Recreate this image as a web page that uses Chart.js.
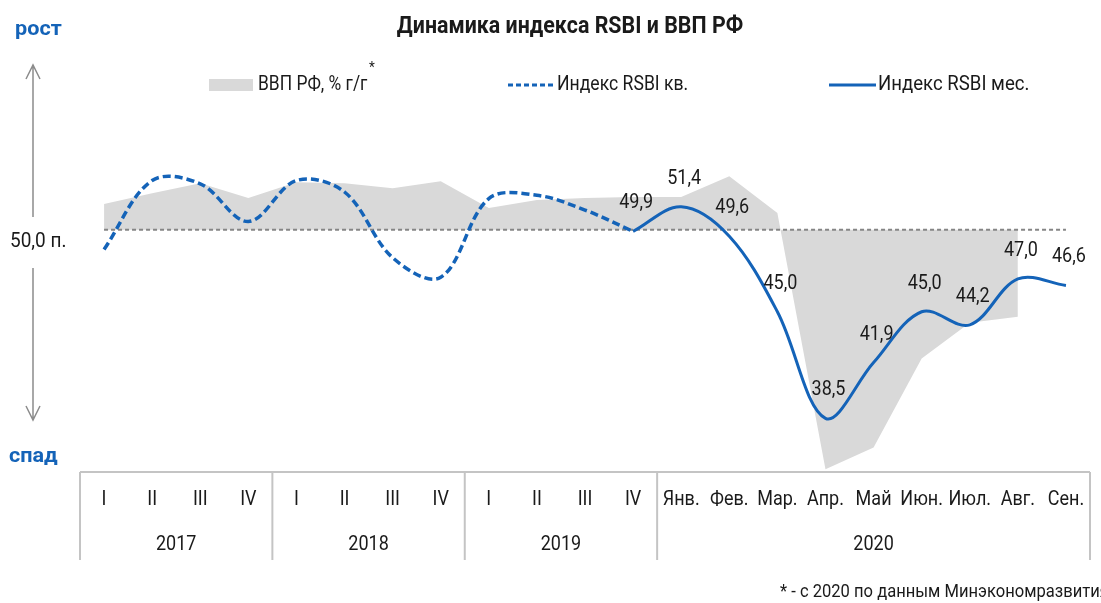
<!DOCTYPE html>
<html>
<head>
<meta charset="utf-8">
<script src="https://cdn.jsdelivr.net/npm/chart.js@4.4.0/dist/chart.umd.min.js"></script>
<style>
  html, body { margin: 0; padding: 0; background: #fff; }
  #wrap { width: 1101px; height: 603px; }
</style>
</head>
<body>
<div id="wrap"><canvas id="chart"></canvas></div>
<script>
// categories: quarters 2017-2019, then months 2020
const categories = ['I', 'II', 'III', 'IV', 'I', 'II', 'III', 'IV', 'I', 'II', 'III', 'IV',
  'Янв.', 'Фев.', 'Мар.', 'Апр.', 'Май', 'Июн.', 'Июл.', 'Авг.', 'Сен.'];
const years = ['2017', '2018', '2019', '2020'];
const yearSpans = [4, 4, 4, 9];

// RSBI index, quarterly (dashed) and monthly (solid)
const rsbiQuarterly = [48.8, 53.0, 52.8, 50.5, 53.0, 52.3, 48.3, 47.1, 51.9, 52.1, 51.2, 49.9,
  null, null, null, null, null, null, null, null, null];
const rsbiMonthly = [null, null, null, null, null, null, null, null, null, null, null,
  49.9, 51.4, 49.6, 45.0, 38.5, 41.9, 45.0, 44.2, 47.0, 46.6];
// GDP, % y/y
const gdp = [1.3, 1.85, 2.35, 1.6, 2.4, 2.35, 2.1, 2.45, 1.1, 1.5, 1.6, 1.65,
  1.65, 2.7, 0.85, -12.1, -11.0, -6.5, -4.7, -4.4, null];
const neutral = categories.map(() => 50);

const FONT = 'Roboto, "Noto Sans", sans-serif';
const BLUE = '#1463b8';
const TXT = '#1a1a1a';

const fmt = v => v.toFixed(1).replace('.', ',');

// narrow-looking text: draw a bit compressed horizontally
function text(ctx, str, x, y, size, opts = {}) {
  ctx.save();
  ctx.font = (opts.bold ? 'bold ' : '') + size + 'px ' + FONT;
  ctx.fillStyle = opts.color || TXT;
  ctx.textAlign = opts.align || 'center';
  ctx.textBaseline = 'middle';
  ctx.translate(x, y);
  ctx.scale(opts.sx || 0.9, 1);
  ctx.fillText(str, 0, 0);
  ctx.restore();
}

const decor = {
  id: 'decor',
  afterDatasetsDraw(chart) {
    const ctx = chart.ctx;
    const meta = chart.getDatasetMeta(3);
    meta.data.forEach((pt, i) => {
      const v = rsbiMonthly[i];
      if (v == null) return;
      text(ctx, fmt(v), pt.x + 3, pt.y - 28, 20);
    });
  },
  afterDraw(chart) {
    const ctx = chart.ctx;
    const x = chart.scales.x;
    const area = chart.chartArea;

    text(ctx, 'Динамика индекса RSBI и ВВП РФ', 570, 27, 23, { bold: true, sx: 0.93 });

    // growth / decline markers
    text(ctx, 'рост', 15, 30, 21, { bold: true, color: BLUE, align: 'left', sx: 1.03 });
    text(ctx, 'спад', 9, 457, 21, { bold: true, color: BLUE, align: 'left', sx: 1.03 });

    ctx.save();
    ctx.strokeStyle = '#8c8c8c';
    ctx.lineWidth = 1.5;
    ctx.beginPath();
    ctx.moveTo(33, 65); ctx.lineTo(33, 217);
    ctx.moveTo(26, 79); ctx.lineTo(33, 65); ctx.lineTo(40, 79);
    ctx.moveTo(33, 268); ctx.lineTo(33, 420);
    ctx.moveTo(26, 406); ctx.lineTo(33, 420); ctx.lineTo(40, 406);
    ctx.stroke();
    ctx.restore();

    text(ctx, '50,0 п.', 10, 242, 20, { align: 'left', sx: 0.95 });

    // legend
    ctx.save();
    ctx.fillStyle = '#d9d9d9';
    ctx.fillRect(209, 79, 44, 12);
    ctx.strokeStyle = BLUE;
    ctx.lineWidth = 3;
    ctx.setLineDash([5, 3]);
    ctx.beginPath(); ctx.moveTo(508, 85); ctx.lineTo(555, 85); ctx.stroke();
    ctx.setLineDash([]);
    ctx.beginPath(); ctx.moveTo(829, 85); ctx.lineTo(876, 85); ctx.stroke();
    ctx.restore();
    text(ctx, 'ВВП РФ, % г/г', 258, 85, 20, { align: 'left', sx: 0.87 });
    text(ctx, '*', 369, 68, 15, { align: 'left' });
    text(ctx, 'Индекс RSBI кв.', 557, 85, 20, { align: 'left', sx: 0.88 });
    text(ctx, 'Индекс RSBI мес.', 878, 85, 20, { align: 'left', sx: 0.93 });

    // category table
    const bottom = 560;
    ctx.save();
    ctx.strokeStyle = '#c4c4c4';
    ctx.lineWidth = 2;
    ctx.beginPath();
    ctx.moveTo(area.left, area.bottom); ctx.lineTo(area.right, area.bottom);
    ctx.stroke();
    ctx.beginPath();
    let start = 0;
    const edges = [area.left];
    yearSpans.forEach(n => {
      const end = start + n;
      edges.push(end >= categories.length ? area.right
        : (x.getPixelForValue(end - 1) + x.getPixelForValue(end)) / 2);
      start = end;
    });
    edges.forEach(ex => { ctx.moveTo(ex, area.bottom); ctx.lineTo(ex, bottom); });
    ctx.stroke();
    ctx.restore();

    categories.forEach((c, i) => text(ctx, c, x.getPixelForValue(i), 500, 20));
    years.forEach((y, i) => text(ctx, y, (edges[i] + edges[i + 1]) / 2, 545, 20));

    // footnote
    text(ctx, '* - с 2020 по данным Минэкономразвития', 780, 592, 18, { align: 'left', sx: 0.92 });
  }
};

new Chart(document.getElementById('chart'), {
  type: 'line',
  data: {
    labels: categories,
    datasets: [
      {
        label: 'ВВП РФ, % г/г',
        data: gdp,
        yAxisID: 'y2',
        backgroundColor: '#d9d9d9',
        borderWidth: 0,
        pointRadius: 0,
        tension: 0,
        fill: { value: 0 },
        order: 4
      },
      {
        label: '50',
        data: neutral,
        borderColor: '#858585',
        borderWidth: 2,
        borderDash: [4, 3],
        pointRadius: 0,
        fill: false,
        order: 3
      },
      {
        label: 'Индекс RSBI кв.',
        data: rsbiQuarterly,
        borderColor: BLUE,
        borderWidth: 3.5,
        borderDash: [8, 4],
        pointRadius: 0,
        tension: 0.35,
        fill: false,
        order: 2
      },
      {
        label: 'Индекс RSBI мес.',
        data: rsbiMonthly,
        borderColor: BLUE,
        borderWidth: 3,
        pointRadius: 0,
        tension: 0.35,
        fill: false,
        order: 1
      }
    ]
  },
  options: {
    responsive: true,
    maintainAspectRatio: false,
    animation: false,
    layout: { padding: { left: 80, right: 11, top: 130, bottom: 131 } },
    plugins: {
      legend: { display: false },
      title: { display: false },
      tooltip: { enabled: false }
    },
    scales: {
      x: { display: false, offset: true },
      y: { display: false, min: 35.23, max: 56.08 },
      y2: { display: false, min: -12.24, max: 5.04 }
    }
  },
  plugins: [decor]
});
</script>
</body>
</html>
